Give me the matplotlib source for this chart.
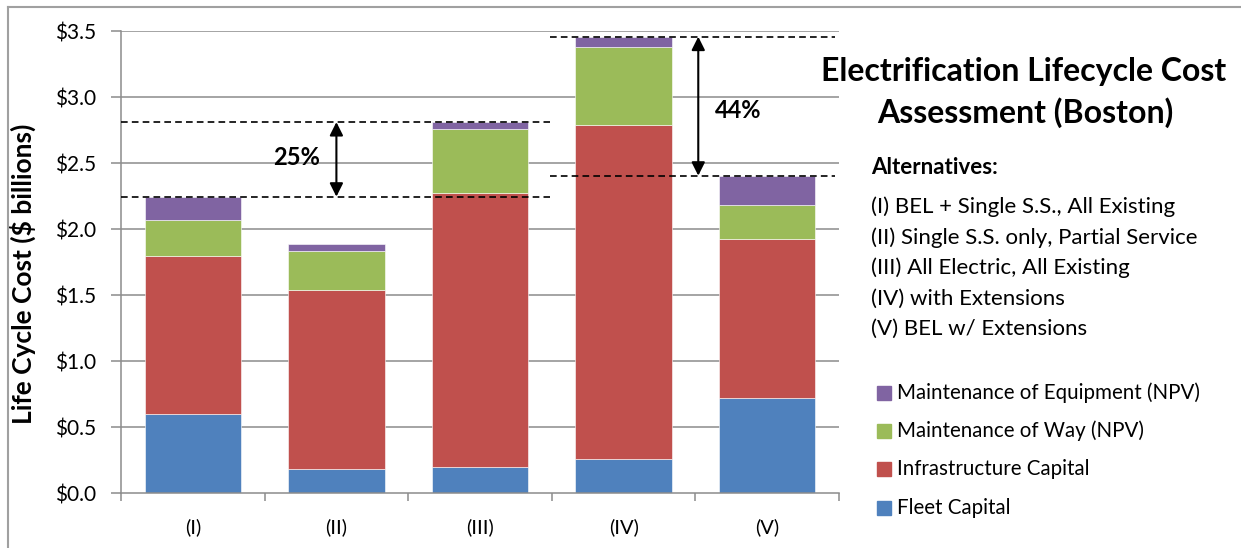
import matplotlib
matplotlib.use("Agg")
import matplotlib.pyplot as plt
from matplotlib.patches import Rectangle
from matplotlib.lines import Line2D
import numpy as np

plt.rcParams['font.family'] = ['Lato', 'DejaVu Sans']

# ---- data ($ billions) ----
alternatives = ["(I)", "(II)", "(III)", "(IV)", "(V)"]
fleet_capital = [0.60, 0.18, 0.20, 0.255, 0.717]
infrastructure_capital = [1.198, 1.358, 2.075, 2.53, 1.21]
maintenance_of_way = [0.27, 0.298, 0.485, 0.594, 0.255]
maintenance_of_equipment = [0.177, 0.05, 0.05, 0.078, 0.222]

series_names = ["Fleet Capital", "Infrastructure Capital",
                "Maintenance of Way (NPV)", "Maintenance of Equipment (NPV)"]
series_colors = ["#4F81BD", "#C0504D", "#9BBB59", "#8064A2"]

alt_descriptions = [
    "(I) BEL + Single S.S., All Existing",
    "(II) Single S.S. only, Partial Service",
    "(III) All Electric, All Existing",
    "(IV) with Extensions",
    "(V) BEL w/ Extensions",
]
y_ticks = [0.0, 0.5, 1.0, 1.5, 2.0, 2.5, 3.0, 3.5]

W, H = 1241, 548
fig = plt.figure(figsize=(W / 100, H / 100), dpi=100)


def fx(x):
    return x / W


def fy(y):
    return 1 - y / H


# chart body
ax = fig.add_axes([fx(121), fy(493), fx(839) - fx(121), fy(31) - fy(493)])
ax.set_xlim(-0.5, 4.5)
ax.set_ylim(0, 3.5)

grid_col = "#8C8C8C"
for v in y_ticks[1:]:
    ax.axhline(v, color=grid_col, lw=1.1, zorder=0)

x = np.arange(len(alternatives))
stack = [fleet_capital, infrastructure_capital, maintenance_of_way, maintenance_of_equipment]
bottom = np.zeros(len(alternatives))
for vals, col in zip(stack, series_colors):
    ax.bar(x, vals, width=0.67, bottom=bottom, color=col, edgecolor="#ffffff",
           linewidth=0.4, zorder=2)
    bottom = bottom + np.array(vals)
totals = bottom

for s in ["top", "right"]:
    ax.spines[s].set_visible(False)
for s in ["left", "bottom"]:
    ax.spines[s].set_color(grid_col)
    ax.spines[s].set_linewidth(1.1)

ax.set_yticks(y_ticks)
ax.set_yticklabels([f"${v:.1f}" for v in y_ticks], fontsize=15)
ax.tick_params(axis="y", direction="out", length=7, color=grid_col, width=1.1, pad=11)

ax.set_xticks(np.arange(-0.5, 5.0, 1.0))
ax.set_xticklabels([])
ax.tick_params(axis="x", which="major", direction="out", length=6, color=grid_col, width=1.1)
ax.set_xticks(x, minor=True)
ax.set_xticklabels(alternatives, minor=True, fontsize=14.5)
ax.tick_params(axis="x", which="minor", length=0, pad=18)

fig.text(fx(23), fy(274), "Life Cycle Cost ($ billions)", fontsize=19,
         fontweight="bold", rotation=90, ha="center", va="center")

# comparison guides: (III) vs (I) and (IV) vs (V)
def compare(lo, hi, x0, x1, xa, label, lx, ly):
    for v in (lo, hi):
        ax.plot([x0, x1], [v, v], color="black", lw=1.2, ls=(0, (4, 2.5)),
                zorder=3, clip_on=False)
    ax.annotate("", xy=(xa, hi), xytext=(xa, lo),
                arrowprops=dict(arrowstyle="<|-|>", color="black", lw=1.5,
                                mutation_scale=20, shrinkA=0, shrinkB=0),
                zorder=4)
    ax.text(lx, ly, label, fontsize=17, fontweight="bold", ha="center", va="center")


pct1 = round((totals[2] / totals[0] - 1) * 100)
pct2 = round((totals[3] / totals[4] - 1) * 100)
compare(totals[0], totals[2], -0.5, 2.49, 1.0, f"{pct1}%", 0.72, 2.54)
compare(totals[4], totals[3], 2.49, 4.47, 3.52, f"{pct2}%", 3.80, 2.90)

# title and notes
fig.text(fx(1024), fy(71), "Electrification Lifecycle Cost", fontsize=23,
         fontweight="bold", ha="center", va="center")
fig.text(fx(1025), fy(113), "Assessment (Boston)", fontsize=23,
         fontweight="bold", ha="center", va="center")
fig.text(fx(871), fy(167), "Alternatives:", fontsize=16, fontweight="bold",
         ha="left", va="center")
for i, t in enumerate(alt_descriptions):
    fig.text(fx(871), fy(207 + 30.5 * i), t, fontsize=16, ha="left", va="center")

# legend
leg_rows = [393, 431, 469, 508]
for yy, name, col in zip(leg_rows, series_names[::-1], series_colors[::-1]):
    fig.patches.append(Rectangle((fx(877), fy(yy + 7)), fx(14), 14 / H,
                                 transform=fig.transFigure, color=col))
    fig.text(fx(897), fy(yy), name, fontsize=14.8, ha="left", va="center")

# outer frame
frame_col = "#A0A0A0"
fig.add_artist(Line2D([fx(8), fx(8)], [fy(7), 0], color=frame_col, lw=1.5,
                      transform=fig.transFigure))
fig.add_artist(Line2D([fx(8), 1], [fy(7), fy(7)], color=frame_col, lw=1.5,
                      transform=fig.transFigure))

fig.savefig("out.png", dpi=100)
